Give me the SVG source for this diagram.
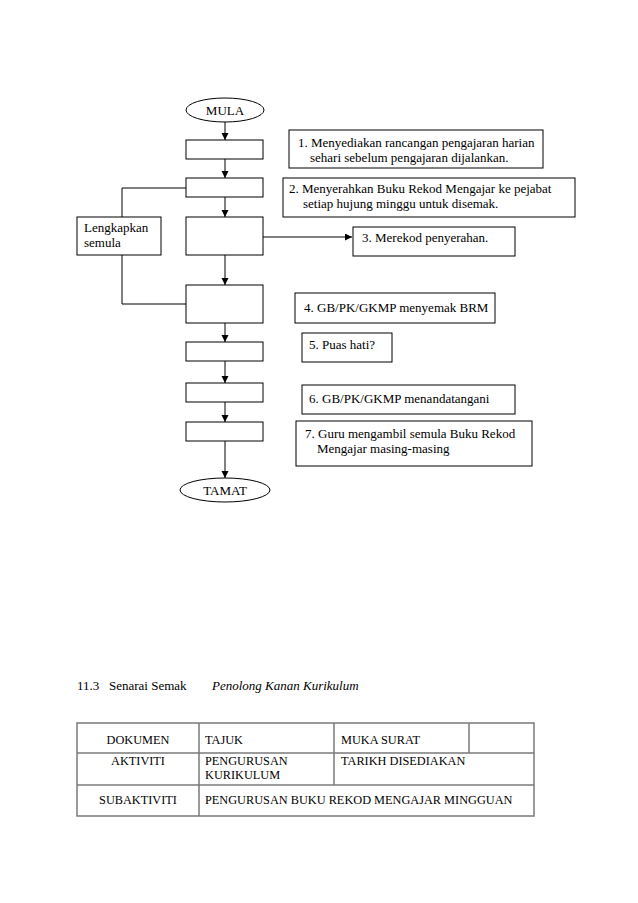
<svg xmlns="http://www.w3.org/2000/svg" width="638" height="903" viewBox="0 0 638 903">
<defs>
<marker id="ah" markerWidth="8" markerHeight="8" refX="7" refY="3.5" orient="auto" markerUnits="userSpaceOnUse">
<path d="M0,0 L7,3.5 L0,7 Z" fill="#000"/>
</marker>
<style>
.b{fill:#fff;stroke:#000;stroke-width:1}
.t{font-family:"Liberation Serif","Times New Roman",serif;font-size:13px;fill:#000}
.s{font-family:"Liberation Serif","Times New Roman",serif;font-size:12.3px;fill:#000}
.c{fill:none;stroke:#000;stroke-width:1}
.g{fill:none;stroke:#7a7a7a;stroke-width:1.5}
</style>
</defs>
<rect width="638" height="903" fill="#fff"/>
<g id="connectors">
<line class="c" x1="225" y1="122" x2="225" y2="140" marker-end="url(#ah)"/>
<line class="c" x1="225" y1="159" x2="225" y2="178" marker-end="url(#ah)"/>
<line class="c" x1="225" y1="197" x2="225" y2="217" marker-end="url(#ah)"/>
<line class="c" x1="225" y1="255" x2="225" y2="285" marker-end="url(#ah)"/>
<line class="c" x1="225" y1="323" x2="225" y2="342" marker-end="url(#ah)"/>
<line class="c" x1="225" y1="361" x2="225" y2="383" marker-end="url(#ah)"/>
<line class="c" x1="225" y1="402" x2="225" y2="422" marker-end="url(#ah)"/>
<line class="c" x1="225" y1="441" x2="225" y2="478" marker-end="url(#ah)"/>
<line class="c" x1="263" y1="237" x2="352" y2="237" marker-end="url(#ah)"/>
<polyline class="c" points="186,188 122,188 122,217"/>
<polyline class="c" points="122,255 122,304 186,304"/>
</g>
<g id="mula"><ellipse class="b" cx="225" cy="110" rx="39" ry="12"/><text class="t" x="225" y="115" text-anchor="middle">MULA</text></g>
<g id="step1"><rect class="b" x="186" y="140" width="77" height="19"/></g>
<g id="step2"><rect class="b" x="186" y="178" width="77" height="19"/></g>
<g id="step3"><rect class="b" x="186" y="217" width="77" height="38"/></g>
<g id="step4"><rect class="b" x="186" y="285" width="77" height="38"/></g>
<g id="step5"><rect class="b" x="186" y="342" width="77" height="19"/></g>
<g id="step6"><rect class="b" x="186" y="383" width="77" height="19"/></g>
<g id="step7"><rect class="b" x="186" y="422" width="77" height="19"/></g>
<g id="tamat"><ellipse class="b" cx="225" cy="490" rx="45" ry="12"/><text class="t" x="225" y="495" text-anchor="middle">TAMAT</text></g>
<g id="lengkapkan"><rect class="b" x="77" y="217" width="84" height="38"/><text class="t" x="84" y="232">Lengkapkan</text><text class="t" x="84" y="247">semula</text></g>
<g id="note1"><rect class="b" x="289" y="130" width="254" height="38"/><text class="t" x="298" y="147">1. Menyediakan rancangan pengajaran harian</text><text class="t" x="310" y="162">sehari sebelum pengajaran dijalankan.</text></g>
<g id="note2"><rect class="b" x="283" y="178" width="292" height="39"/><text class="t" x="289" y="193">2. Menyerahkan Buku Rekod Mengajar ke pejabat</text><text class="t" x="303" y="208">setiap hujung minggu untuk disemak.</text></g>
<g id="note3"><rect class="b" x="353" y="227" width="162" height="29"/><text class="t" x="362" y="242">3. Merekod penyerahan.</text></g>
<g id="note4"><rect class="b" x="295" y="293" width="200" height="30"/><text class="t" x="304" y="312">4. GB/PK/GKMP menyemak BRM</text></g>
<g id="note5"><rect class="b" x="302" y="333" width="90" height="29"/><text class="t" x="309" y="349">5. Puas hati?</text></g>
<g id="note6"><rect class="b" x="302" y="385" width="213" height="29"/><text class="t" x="309" y="403">6. GB/PK/GKMP menandatangani</text></g>
<g id="note7"><rect class="b" x="296" y="421" width="236" height="45"/><text class="t" x="305" y="438">7. Guru mengambil semula Buku Rekod</text><text class="t" x="317" y="453">Mengajar masing-masing</text></g>
<g id="heading"><text class="t" x="77" y="690">11.3</text><text class="t" x="109" y="690">Senarai Semak</text><text class="t" x="212" y="690" font-style="italic">Penolong Kanan Kurikulum</text></g>
<g id="table">
<rect class="g" x="77" y="723" width="457" height="93"/>
<line class="g" x1="77" y1="753" x2="534" y2="753" stroke-width="2"/>
<line class="g" x1="77" y1="785" x2="534" y2="785"/>
<line class="g" x1="199" y1="723" x2="199" y2="816"/>
<line class="g" x1="334" y1="723" x2="334" y2="785"/>
<line class="g" x1="469" y1="723" x2="469" y2="753"/>
<text class="s" x="138" y="744" text-anchor="middle">DOKUMEN</text>
<text class="s" x="205" y="744">TAJUK</text>
<text class="s" x="341" y="744">MUKA SURAT</text>
<text class="s" x="138" y="765" text-anchor="middle">AKTIVITI</text>
<text class="s" x="205" y="765">PENGURUSAN</text>
<text class="s" x="205" y="779">KURIKULUM</text>
<text class="s" x="341" y="765">TARIKH DISEDIAKAN</text>
<text class="s" x="138" y="804" text-anchor="middle">SUBAKTIVITI</text>
<text class="s" x="205" y="804">PENGURUSAN BUKU REKOD MENGAJAR MINGGUAN</text>
</g>
</svg>
